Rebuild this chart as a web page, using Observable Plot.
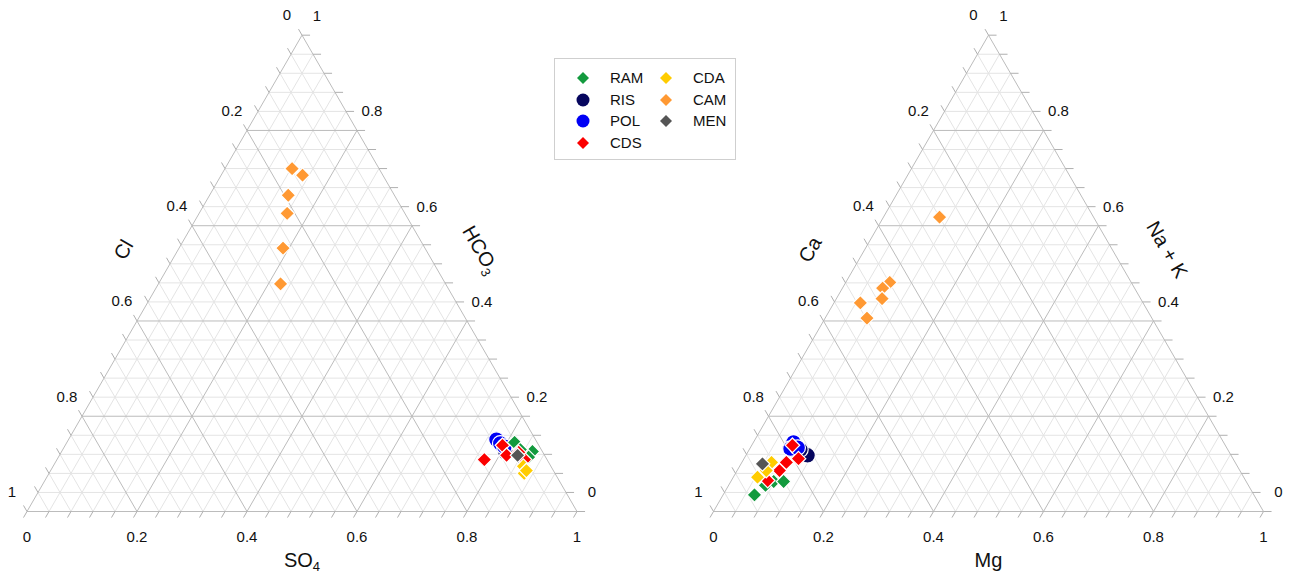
<!DOCTYPE html>
<html><head><meta charset="utf-8">
<script src="https://cdn.jsdelivr.net/npm/d3@7"></script>
<script src="https://cdn.jsdelivr.net/npm/@observablehq/plot@0.6"></script>
<style>
body{margin:0;background:#fff;font-family:"Liberation Sans",Arial,sans-serif;}
#wrap{position:relative;width:1296px;height:579px;overflow:hidden;}
#legend{position:absolute;left:554px;top:58px;width:182px;height:102px;border:1px solid #cfcfcf;box-sizing:border-box;background:#fff;}
.item{position:absolute;font-size:15px;color:#111;line-height:18px;white-space:nowrap;}
.sym{position:absolute;}
</style></head><body><div id="wrap"></div>
<script>
// ---- data ----
const groups  = ["RAM","RIS","POL","CDS","CDA","CAM","MEN"];
const colors  = ["#139a3e","#06065e","#0000f5","#fb0000","#ffcc00","#ff9933","#555555"];
const shapes  = ["diamond","circle","circle","diamond","diamond","diamond","diamond"];

const sampleGroup = ["RAM","RAM","RAM","RAM","RIS","RIS","POL","POL","POL",
  "CDS","CDS","CDS","CDS","CDS","CDA","CDA","CDA",
  "CAM","CAM","CAM","CAM","CAM","CAM","MEN"];

// anion fractions
const cl   = [0.041,0.018,0.031,0.038, 0.068,0.043, 0.071,0.068,0.064,
  0.114,0.066,0.069,0.041,0.044, 0.050,0.056,0.049,
  0.158,0.146,0.193,0.214,0.258,0.300, 0.049];
const so4  = [0.814,0.856,0.855,0.832, 0.808,0.841, 0.778,0.789,0.800,
  0.777,0.795,0.813,0.850,0.832, 0.855,0.864,0.865,
  0.122,0.148,0.143,0.160,0.189,0.222, 0.833];
const hco3 = [0.145,0.126,0.114,0.130, 0.124,0.116, 0.151,0.143,0.136,
  0.109,0.139,0.118,0.109,0.124, 0.095,0.080,0.086,
  0.720,0.706,0.664,0.626,0.553,0.478, 0.118];

// cation fractions
const ca  = [0.908,0.878,0.859,0.841, 0.770,0.777, 0.782,0.794,0.780,
  0.869,0.837,0.816,0.790,0.787, 0.884,0.843,0.861,
  0.280,0.439,0.458,0.470,0.514,0.518, 0.861];
const mg  = [0.057,0.067,0.078,0.096, 0.112,0.093, 0.073,0.074,0.086,
  0.066,0.077,0.081,0.099,0.074, 0.044,0.054,0.053,
  0.102,0.080,0.073,0.083,0.048,0.076, 0.039];
const nak = [0.035,0.055,0.063,0.063, 0.118,0.130, 0.145,0.132,0.134,
  0.065,0.086,0.103,0.111,0.139, 0.072,0.103,0.086,
  0.618,0.481,0.469,0.447,0.438,0.406, 0.100];

const tickValues = [0, 0.2, 0.4, 0.6, 0.8, 1];
const tickLabels = ["0","0.2","0.4","0.6","0.8","1"];
const minorDivisions = 25; // grid every 0.04

// ---- layout ----
const W = 1296, H = 579;
const diagrams = [
  {x0:26.5, y0:511, side:550, leftTitle:"Cl", rightTitle:"HCO3", bottomTitle:"SO4", L:cl, R:so4, T:hco3},
  {x0:713,  y0:511, side:550, leftTitle:"Ca", rightTitle:"Na + K", bottomTitle:"Mg", L:ca, R:mg, T:nak}
];
diagrams.forEach(d => d.h = d.side*Math.sqrt(3)/2);
const proj = (d, r, t) => [d.x0 + d.side*(r + t/2), d.y0 - d.h*t];

const TICK = 7;
const minor = [], major = [], ticks = [], labels = [], titles = [], pts = [];
diagrams.forEach(d => {
  for (let k = 0; k <= minorDivisions; k++) {
    const v = k/minorDivisions;
    const arr = (k % 5 === 0) ? major : minor;
    let a = proj(d, 0, v), b = proj(d, 1-v, v);
    arr.push({x1:a[0], y1:a[1], x2:b[0], y2:b[1]});
    ticks.push({x1:b[0], y1:b[1], x2:b[0]+TICK*1.15, y2:b[1]});
    a = proj(d, v, 0); b = proj(d, v, 1-v);
    arr.push({x1:a[0], y1:a[1], x2:b[0], y2:b[1]});
    ticks.push({x1:a[0], y1:a[1], x2:a[0]-0.5*TICK, y2:a[1]+0.866*TICK});
    a = proj(d, 1-v, 0); b = proj(d, 0, 1-v);
    arr.push({x1:a[0], y1:a[1], x2:b[0], y2:b[1]});
    ticks.push({x1:b[0], y1:b[1], x2:b[0]-0.5*TICK, y2:b[1]-0.866*TICK});
  }
  tickValues.forEach((v, i) => {
    let p = proj(d, v, 0);
    labels.push({x:p[0], y:p[1]+26, text:tickLabels[i]});
    p = proj(d, 1-v, v);
    labels.push({x:p[0]+15, y:p[1]-19, text:tickLabels[i]});
    p = proj(d, 0, 1-v);
    labels.push({x:p[0]-15, y:p[1]-19.5, text:tickLabels[i]});
  });
  const off = 47;
  let m = proj(d, 0.5, 0);
  titles.push({x:m[0], y:m[1]+49, text:d.bottomTitle, rot:0});
  m = proj(d, 0, 0.5);
  titles.push({x:m[0]-0.866*off, y:m[1]-0.5*off, text:d.leftTitle, rot:-60});
  m = proj(d, 0.5, 0.5);
  titles.push({x:m[0]+0.866*off, y:m[1]-0.5*off, text:d.rightTitle, rot:60});
  sampleGroup.forEach((g, i) => {
    const s = d.L[i] + d.R[i] + d.T[i];
    const p = proj(d, d.R[i]/s, d.T[i]/s);
    pts.push({x:p[0], y:p[1], group:g, shape:shapes[groups.indexOf(g)]});
  });
});

const circles = pts.filter(p => p.shape === "circle");
const diamonds = pts.filter(p => p.shape === "diamond");

const chart = Plot.plot({
  width: W, height: H, margin: 0,
  x: {domain:[0, W], range:[0, W], axis:null},
  y: {domain:[0, H], range:[0, H], axis:null},
  color: {domain: groups, range: colors},
  style: {fontFamily:'"Liberation Sans", Arial, sans-serif', background:"white"},
  marks: [
    Plot.link(minor, {x1:"x1", y1:"y1", x2:"x2", y2:"y2", stroke:"#e4e4e4", strokeWidth:1}),
    Plot.link(major, {x1:"x1", y1:"y1", x2:"x2", y2:"y2", stroke:"#bcbcbc", strokeWidth:1}),
    Plot.link(ticks, {x1:"x1", y1:"y1", x2:"x2", y2:"y2", stroke:"#b0b0b0", strokeWidth:1}),
    Plot.text(labels, {x:"x", y:"y", text:"text", fontSize:15, fill:"#111"}),
    Plot.text(titles, {x:"x", y:"y", text:"text", rotate:"rot", fontSize:20, fill:"#111"}),
    Plot.dot(circles, {x:"x", y:"y", fill:"group", r:7.8, symbol:"circle", stroke:"white", strokeWidth:1.2}),
    Plot.dot(diamonds, {x:"x", y:"y", fill:"group", r:6.6, symbol:"diamond2", stroke:"white", strokeWidth:1.2})
  ]
});

const NS = "http://www.w3.org/2000/svg";
chart.querySelectorAll("text").forEach(t => {
  const m = t.textContent.match(/^(SO|HCO)(\d)$/);
  if (m) {
    t.textContent = "";
    const a = document.createElementNS(NS, "tspan"); a.textContent = m[1];
    const b = document.createElementNS(NS, "tspan"); b.textContent = m[2];
    b.setAttribute("dy", "0.35em"); b.setAttribute("font-size", "13");
    t.append(a, b);
  }
});

const wrap = document.getElementById("wrap");
wrap.appendChild(chart);

const legend = document.createElement("div");
legend.id = "legend";
const colX = [[28, 55], [111, 138]];
const rowY = [19, 40.5, 62, 83.5];
groups.forEach((g, i) => {
  const col = i < 4 ? 0 : 1, row = i < 4 ? i : i - 4;
  const sym = document.createElementNS(NS, "svg");
  sym.setAttribute("width", 16); sym.setAttribute("height", 16);
  sym.setAttribute("class", "sym");
  sym.style.left = (colX[col][0] - 8) + "px";
  sym.style.top = (rowY[row] - 8) + "px";
  if (shapes[i] === "circle") {
    const c = document.createElementNS(NS, "circle");
    c.setAttribute("cx", 8); c.setAttribute("cy", 8); c.setAttribute("r", 6.5);
    c.setAttribute("fill", colors[i]);
    sym.appendChild(c);
  } else {
    const p = document.createElementNS(NS, "polygon");
    p.setAttribute("points", "8,2 14,8 8,14 2,8");
    p.setAttribute("fill", colors[i]);
    sym.appendChild(p);
  }
  legend.appendChild(sym);
  const lab = document.createElement("div");
  lab.className = "item";
  lab.textContent = g;
  lab.style.left = colX[col][1] + "px";
  lab.style.top = (rowY[row] - 9) + "px";
  legend.appendChild(lab);
});
wrap.appendChild(legend);
</script></body></html>
